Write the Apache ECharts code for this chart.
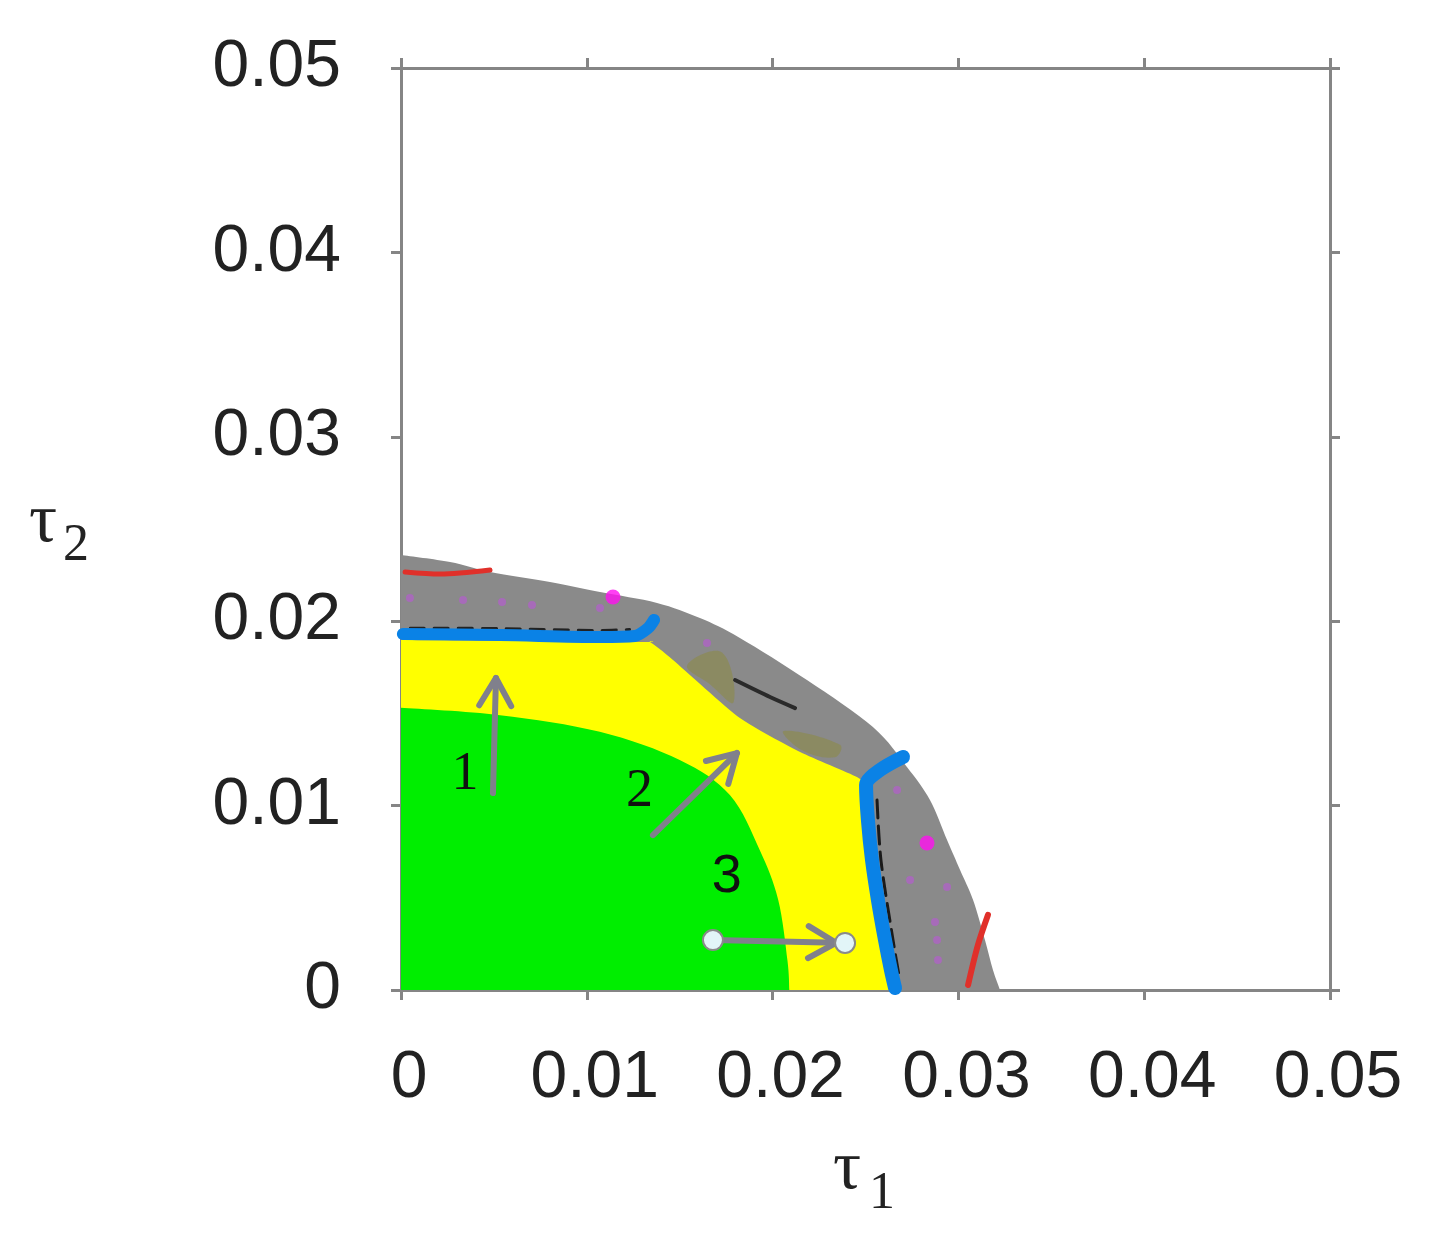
<!DOCTYPE html>
<html><head><meta charset="utf-8">
<script src="https://cdn.jsdelivr.net/npm/echarts@6/dist/echarts.min.js"></script>
<style>html,body{margin:0;padding:0;background:#fff}#c{width:1448px;height:1248px}</style>
</head><body><div id="c"></div>
<script>
// ---- tick labels ----
const tickValues = [0, 0.01, 0.02, 0.03, 0.04, 0.05];
const tickLabels = ['0', '0.01', '0.02', '0.03', '0.04', '0.05'];

// ---- region boundaries [tau1, tau2] ----
const grayOuter = [[0,0.02359],[0.00264,0.02321],[0.00479,0.02267],[0.00802,0.02213],[0.01071,0.02158],[0.01378,0.02099],[0.01609,0.02017],[0.01824,0.01909],[0.02185,0.01681],[0.0254,0.01426],[0.02723,0.01209],[0.02847,0.0103],[0.02939,0.00813],[0.03009,0.00651],[0.03079,0.00488],[0.03143,0.00271],[0.03186,0.00108],[0.03224,0]];
const yellowEdge = [[0,0.01898],[0.01286,0.01887],[0.0134,0.01887],[0.01464,0.0179],[0.01824,0.01475],[0.02148,0.01291],[0.02454,0.01155],[0.02513,0.01085],[0.0253,0.00813],[0.02562,0.00597],[0.026,0.0038],[0.02626,0.00163],[0.02643,0]];
const greenEdge = [[0,0.0153],[0.00533,0.0149],[0.0107,0.014],[0.015,0.01247],[0.0177,0.01057],[0.0193,0.0076],[0.0203,0.0049],[0.0208,0.0016],[0.0209,0]];
const olivePatchA = [[0.01540,0.01760],[0.01728,0.01830],[0.01790,0.01560],[0.01660,0.01660]];
const olivePatchB = [[0.0206,0.01405],[0.02363,0.01330],[0.02336,0.01262],[0.02160,0.01300]];

// ---- boundary lines ----
const blueTop = [[0.0001,0.0193],[0.00533,0.01925],[0.01071,0.01914],[0.01259,0.0192],[0.0133,0.01963],[0.01362,0.02007]];
const blueSide = [[0.02702,0.01264],[0.02578,0.01193],[0.02503,0.01112],[0.02513,0.00922],[0.02535,0.00705],[0.02567,0.00488],[0.02605,0.00271],[0.02637,0.00108],[0.02659,0.00011]];
const darkTop = [[0.0005,0.01962],[0.00533,0.01960],[0.01071,0.01950],[0.0123,0.01955]];
const darkSide = [[0.02562,0.0103],[0.02583,0.00705],[0.02648,0.00271],[0.0268,0.00081]];
const redTop = [[0.00022,0.02267],[0.0021,0.02256],[0.00479,0.02278]];
const redSide = [[0.03159,0.00407],[0.03105,0.00244],[0.03052,0.00027]];
const darkStreak = [[0.01798,0.01681],[0.01986,0.01589],[0.02121,0.01529]];
const magentaSpots = [[0.01141,0.02131],[0.02831,0.00797]];
const purpleDots = [[0.00048,0.02126],[0.00334,0.02115],[0.00544,0.02104],[0.00705,0.02088],[0.01071,0.02072],[0.01647,0.01882],[0.0267,0.01085],[0.02939,0.00559],[0.02874,0.00369],[0.02885,0.00271],[0.0289,0.00163],[0.0274,0.00597]];

// ---- arrows and region labels ----
const arrowStart = [[0.00495,0.01068],[0.01356,0.0084],[0.01679,0.00271]];
const arrowEnd = [[0.00511,0.01692],[0.01808,0.01285],[0.0239,0.00255]];
const arrowKinds = ['plain','plain','dots'];
const regionLabels = ['1','2','3'];
const regionLabelPos = [[0.00344,0.01166],[0.01283,0.01073],[0.01753,0.00613]];
const regionLabelFonts = ['Liberation Serif','Liberation Serif','Liberation Sans'];

const chart = echarts.init(document.getElementById('c'));

// smooth (Catmull-Rom) path through pixel points, closed down to the x axis
function smoothAreaPath(p, axisPts, t) {
  let d = 'M' + p[0][0] + ' ' + p[0][1];
  for (let i = 0; i < p.length - 1; i++) {
    const p0 = p[i - 1] || p[i], p1 = p[i], p2 = p[i + 1], p3 = p[i + 2] || p[i + 1];
    const c1 = [p1[0] + (p2[0] - p0[0]) * t / 6, p1[1] + (p2[1] - p0[1]) * t / 6];
    const c2 = [p2[0] - (p3[0] - p1[0]) * t / 6, p2[1] - (p3[1] - p1[1]) * t / 6];
    d += ' C' + c1[0] + ' ' + c1[1] + ' ' + c2[0] + ' ' + c2[1] + ' ' + p2[0] + ' ' + p2[1];
  }
  axisPts.forEach(q => { d += ' L' + q[0] + ' ' + q[1]; });
  return d + ' Z';
}
function areaSeries(pts, color, tension) {
  return {
    type: 'custom', data: pts, silent: true,
    renderItem: function (params, api) {
      if (params.dataIndex !== 0) return null;
      const p = pts.map(d => api.coord(d));
      const last = pts[pts.length - 1];
      const axisPts = [api.coord([last[0], 0]), api.coord([0, 0])];
      return { type: 'path', shape: { pathData: smoothAreaPath(p, axisPts, tension) }, style: { fill: color } };
    }
  };
}
function polygonSeries(pts, color, opacity) {
  return {
    type: 'custom', data: pts, silent: true,
    renderItem: function (params, api) {
      if (params.dataIndex !== 0) return null;
      const p = pts.map(d => api.coord(d));
      return { type: 'polygon', shape: { points: p, smooth: 0.4 }, style: { fill: color, opacity: opacity } };
    }
  };
}
function lineSeries(pts, color, width, type) {
  return {
    type: 'line', data: pts, showSymbol: false, silent: true, smooth: 0.3,
    lineStyle: { color: color, width: width, cap: 'round', join: 'round', type: type || 'solid' }
  };
}
function axisCommon(pos, showLabel) {
  return {
    type: 'value', min: 0, max: 0.05, interval: 0.01, position: pos,
    axisLine: { show: true, onZero: false, lineStyle: { color: '#858585', width: 3 } },
    axisTick: { show: true, inside: false, length: 10, lineStyle: { color: '#858585', width: 3 } },
    splitLine: { show: false },
    axisLabel: showLabel ? {
      fontSize: 66, fontFamily: 'Liberation Sans', color: '#222',
      formatter: v => tickLabels[tickValues.indexOf(Math.round(v * 100) / 100)]
    } : { show: false }
  };
}
const xb = axisCommon('bottom', true); xb.axisLabel.margin = 56; xb.axisLabel.padding = [0, 0, 0, 16];
const xt = axisCommon('top', false);
const yl = axisCommon('left', true); yl.axisLabel.margin = 60;
const yr = axisCommon('right', false);

const arrowData = arrowStart.map((s, i) => [s[0], s[1], arrowEnd[i][0], arrowEnd[i][1], i]);

chart.setOption({
  backgroundColor: '#fff',
  animation: false,
  grid: { left: 401, right: 118, top: 68, bottom: 258 },
  xAxis: [xb, xt],
  yAxis: [yl, yr],
  graphic: [
    { type: 'text', left: 29, top: 488, style: { text: 'τ', font: '70px "Liberation Serif"', fill: '#222' } },
    { type: 'text', left: 63, top: 520, style: { text: '2', font: '52px "Liberation Serif"', fill: '#222' } },
    { type: 'text', left: 833, top: 1135, style: { text: 'τ', font: '70px "Liberation Serif"', fill: '#222' } },
    { type: 'text', left: 869, top: 1168, style: { text: '1', font: '52px "Liberation Serif"', fill: '#222' } }
  ],
  series: [
    areaSeries(grayOuter, '#8a8a8a', 1),
    polygonSeries(olivePatchA, '#8d8a42', 0.55),
    polygonSeries(olivePatchB, '#8d8a42', 0.55),
    areaSeries(yellowEdge, '#ffff00', 0.6),
    areaSeries(greenEdge, '#00ee00', 1),
    lineSeries(darkStreak, '#2a2a2a', 4),
    lineSeries(redTop, '#e0302a', 5),
    lineSeries(redSide, '#e0302a', 6),
    {
      type: 'scatter', data: purpleDots, symbolSize: 8, silent: true,
      itemStyle: { color: '#b060c8', opacity: 0.75 }
    },
    {
      type: 'scatter', data: magentaSpots, symbolSize: 15, silent: true,
      itemStyle: { color: '#ff10f0' }
    },
    lineSeries(darkTop, '#222', 3, [14, 10]),
    lineSeries(darkSide, '#1a1a1a', 3, [18, 8]),
    lineSeries(blueTop, '#0a82e6', 12),
    lineSeries(blueSide, '#0a82e6', 14),
    {
      type: 'custom', data: arrowData, silent: true,
      renderItem: function (params, api) {
        const i = api.value(4);
        const p1 = api.coord([api.value(0), api.value(1)]);
        const p2 = api.coord([api.value(2), api.value(3)]);
        const dx = p2[0] - p1[0], dy = p2[1] - p1[1];
        const len = Math.sqrt(dx * dx + dy * dy);
        const ux = dx / len, uy = dy / len;
        const kind = arrowKinds[i];
        const tip = kind === 'dots' ? [p2[0] - ux * 9, p2[1] - uy * 9] : p2;
        const L = 32, a = 30 * Math.PI / 180;
        const rot = (ang) => [ux * Math.cos(ang) - uy * Math.sin(ang), ux * Math.sin(ang) + uy * Math.cos(ang)];
        const r1 = rot(a), r2 = rot(-a);
        const arm1 = [tip[0] - r1[0] * L, tip[1] - r1[1] * L];
        const arm2 = [tip[0] - r2[0] * L, tip[1] - r2[1] * L];
        const col = '#80808c';
        const children = [
          { type: 'line', shape: { x1: p1[0], y1: p1[1], x2: tip[0], y2: tip[1] }, style: { stroke: col, lineWidth: 6, lineCap: 'round' } },
          { type: 'polyline', shape: { points: [arm1, tip, arm2] }, style: { stroke: col, lineWidth: 6, lineCap: 'round', lineJoin: 'round', fill: null } }
        ];
        if (kind === 'dots') {
          [p1, p2].forEach(p => children.push({
            type: 'circle', shape: { cx: p[0], cy: p[1], r: 10 },
            style: { fill: '#e2f5f8', stroke: '#8a8a8a', lineWidth: 2 }
          }));
        }
        return { type: 'group', children: children };
      }
    },
    {
      type: 'custom', data: regionLabelPos, silent: true,
      renderItem: function (params, api) {
        const p = api.coord([api.value(0), api.value(1)]);
        const i = params.dataIndex;
        return {
          type: 'text', x: p[0], y: p[1],
          style: { text: regionLabels[i], font: '54px "' + regionLabelFonts[i] + '"', fill: '#111', align: 'center', verticalAlign: 'middle' }
        };
      }
    }
  ]
});
</script>
</body></html>
